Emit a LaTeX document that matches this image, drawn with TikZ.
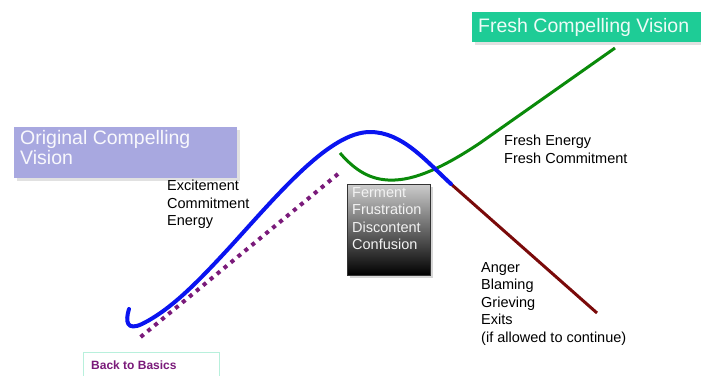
\documentclass[tikz,border=0pt]{standalone}
\usepackage{fontspec}
\setmainfont{Liberation Sans}
\usetikzlibrary{shadows}
\definecolor{lav}{HTML}{A8A8E0}
\definecolor{mint}{HTML}{1ECC96}
\definecolor{bluec}{HTML}{0A14F0}
\definecolor{greenc}{HTML}{0A8A0A}
\definecolor{redc}{HTML}{7A0A0A}
\definecolor{purp}{HTML}{7A1A7A}
\definecolor{mintb}{HTML}{B8F0DC}
\tikzset{
  txt/.style={inner sep=0pt, anchor=north west, align=left, font=\fontsize{14.5}{17.5}\selectfont},
  banner/.style={inner sep=0pt, anchor=north west,
     drop shadow={shadow xshift=3pt, shadow yshift=-3pt, fill=black!15, opacity=0.8}},
  bantxt/.style={inner sep=0pt, font=\fontsize{19.5}{20}\selectfont, align=left},
}
\begin{document}
\begin{tikzpicture}[x=1pt,y=-1pt]
\useasboundingbox (0,0) rectangle (701,375);
% banners
\node[banner, fill=lav, minimum width=223pt, minimum height=51pt] (ocv) at (14,127) {};
\node[bantxt, anchor=north west, text=white!92!lav] (ocvt) at (20,130) {Original Compelling\\Vision};
\node[banner, fill=mint, minimum width=229pt, minimum height=30pt] (fcv) at (472,12) {};
\node[bantxt, anchor=west, text=white!92!mint] (fcvt) at (478,27) {Fresh Compelling Vision};
% curves
\coordinate (bstart) at (129,309);
\coordinate (bhook) at (142,324);
\coordinate (bup) at (230,247);
\coordinate (bpeak) at (370,132);
\coordinate (bend) at (451,184);
\coordinate (rend) at (597,313);
\coordinate (gstart) at (340,153);
\coordinate (gmin) at (395,180);
\coordinate (gmid) at (480,143);
\coordinate (gend) at (615,48);
\coordinate (dtop) at (338,174);
\coordinate (dbot) at (137,340);
\draw[purp, line width=4pt, dash pattern=on 4pt off 5pt] (dtop) -- (dbot);
\draw[redc, line width=3pt] (bend) -- (rend);
\draw[greenc, line width=3pt] (gstart) .. controls (358,174) and (375,181) .. (gmin)
   .. controls (420,179) and (450,163) .. (gmid) -- (gend);
\draw[bluec, line width=4pt, line join=round, line cap=round] (bstart) .. controls (125,322) and (127,331) .. (bhook)
   .. controls (170,310) and (195,285) .. (bup)
   .. controls (280,192) and (330,132) .. (bpeak) .. controls (402,132) and (425,160) .. (bend);
% gray box
\node[inner sep=0pt, anchor=north west, minimum width=83pt, minimum height=91pt, draw=black!80, line width=0.8pt,
  top color=black!20, bottom color=black, drop shadow={shadow xshift=3pt, shadow yshift=-3pt, fill=black!20, opacity=0.8}] (gbox) at (347,184) {};
\node[txt, text=white!95!black] (gtxt) at (352,187) {Ferment\\Frustration\\Discontent\\Confusion};
% labels
\node[txt] (exc) at (167,180) {Excitement\\Commitment\\Energy};
\node[txt] (fe) at (504,135) {Fresh Energy\\Fresh Commitment};
\node[txt] (ang) at (481,262) {Anger\\Blaming\\Grieving\\Exits\\(if allowed to continue)};
% back to basics
\node[inner sep=0pt, anchor=north west, minimum width=136pt, minimum height=30pt, draw=mintb, line width=1pt, fill=white] (btb) at (83,352) {};
\node[inner sep=0pt, anchor=west, text=purp, font=\bfseries\fontsize{12}{14}\selectfont] (btbt) at (91,365) {Back to Basics};
\end{tikzpicture}
\end{document}
